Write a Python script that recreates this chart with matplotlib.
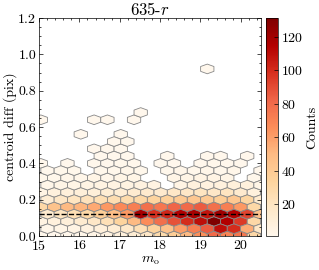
import numpy as np
import matplotlib
matplotlib.use("Agg")
import matplotlib.pyplot as plt
from matplotlib.ticker import AutoMinorLocator, MultipleLocator

plt.rcParams.update({
    "font.family": "serif",
    "font.serif": ["cmr10"],
    "mathtext.fontset": "cm",
    "axes.unicode_minus": False,
    "axes.formatter.use_mathtext": True,
    "font.size": 10,
})

# %% hexbin cells
# rows are spaced 0.04 in y; even rows start at x=15.045, odd rows at 15.21, step 0.33
row_y = [0.00, 0.04, 0.08, 0.12, 0.16, 0.20, 0.24, 0.28, 0.32, 0.36, 0.40,
         0.44, 0.48, 0.52, 0.56, 0.60, 0.64, 0.68, 0.72, 0.76, 0.80, 0.84,
         0.88, 0.92]
hex_counts = [
    [2, 1, 2, 3, 4, 6, 8, 12, 18, 28, 38, 50, 65, 80, 70, 75, 30],
    [3, 4, 5, 7, 9, 12, 16, 24, 34, 45, 60, 72, 85, 110, 100, 55, 18],
    [6, 8, 10, 14, 18, 24, 34, 50, 66, 78, 88, 100, 110, 131, 115, 95, 30],
    [15, 20, 25, 30, 38, 48, 62, 118, 98, 102, 115, 118, 108, 120, 115, 92, 45],
    [30, 45, 50, 52, 56, 62, 68, 72, 78, 75, 82, 80, 85, 78, 72, 62, 30],
    [12, 18, 20, 22, 25, 26, 28, 30, 33, 36, 40, 42, 40, 38, 42, 32, 15],
    [5, 8, 9, 10, 10, 12, 12, 14, 15, 15, 18, 18, 20, 18, 20, 15, 8],
    [3, 4, 4, 5, 6, 6, 6, 7, 6, 0, 5, 8, 7, 8, 9, 8, 4],
    [2, 2, 3, 3, 4, 3, 4, 4, 0, 0, 4, 4, 5, 5, 4, 0, 2],
    [1, 2, 2, 0, 2, 2, 3, 2, 0, 2, 3, 2, 3, 2, 3, 0, 1],
    [1, 0, 1, 0, 2, 1, 2, 1, 0, 1, 1, 0, 1, 2, 1, 1, 0],
    [0, 0, 0, 0, 1, 1, 1, 0, 0, 1, 0, 0, 1, 1, 0, 1, 0],
    [0, 0, 0, 0, 1, 1, 1, 0, 0, 0, 0, 0, 0, 0, 0, 0, 0],
    [0, 0, 0, 0, 0, 1, 1, 0, 0, 0, 0, 0, 0, 0, 0, 0, 0],
    [0, 0, 0, 1, 0, 0, 1, 0, 0, 0, 0, 0, 0, 0, 0, 0, 0],
    [0, 0, 0, 0, 0, 0, 0, 0, 0, 0, 0, 0, 0, 0, 0, 0, 0],
    [1, 0, 0, 0, 1, 1, 0, 1, 0, 0, 0, 0, 0, 0, 0, 0, 0],
    [0, 0, 0, 0, 0, 0, 0, 1, 0, 0, 0, 0, 0, 0, 0, 0, 0],
    [0, 0, 0, 0, 0, 0, 0, 0, 0, 0, 0, 0, 0, 0, 0, 0, 0],
    [0, 0, 0, 0, 0, 0, 0, 0, 0, 0, 0, 0, 0, 0, 0, 0, 0],
    [0, 0, 0, 0, 0, 0, 0, 0, 0, 0, 0, 0, 0, 0, 0, 0, 0],
    [0, 0, 0, 0, 0, 0, 0, 0, 0, 0, 0, 0, 0, 0, 0, 0, 0],
    [0, 0, 0, 0, 0, 0, 0, 0, 0, 0, 0, 0, 0, 0, 0, 0, 0],
    [0, 0, 0, 0, 0, 0, 0, 0, 0, 0, 0, 0, 1, 0, 0, 0, 0],
]
median_diff = 0.121

# %% unpack cells to points at hex centres
xs, ys, cs = [], [], []
for k, (y, row) in enumerate(zip(row_y, hex_counts)):
    x0 = 15.045 if k % 2 == 0 else 15.21
    for i, c in enumerate(row):
        if c > 0:
            xs.append(x0 + 0.33 * i)
            ys.append(y)
            cs.append(c)

# %%
fig = plt.figure(figsize=(3.19, 2.70), dpi=100)
ax = fig.add_axes([0.1223, 0.126, 0.6957, 0.807])
cax = fig.add_axes([0.834, 0.126, 0.0376, 0.807])

hb = ax.hexbin(xs, ys, C=cs, reduce_C_function=np.sum, gridsize=(18, 15),
               extent=(14.715, 20.655, 0.0, 1.2), cmap="OrRd", vmin=1, vmax=131,
               edgecolors="#888888", linewidths=0.6)
ax.axhline(median_diff, color="k", ls="--", lw=1.0)

ax.set_xlim(15, 20.5)
ax.set_ylim(0, 1.2)
ax.xaxis.set_major_locator(MultipleLocator(1))
ax.yaxis.set_major_locator(MultipleLocator(0.2))
ax.xaxis.set_minor_locator(AutoMinorLocator(5))
ax.yaxis.set_minor_locator(AutoMinorLocator(4))
ax.yaxis.set_major_formatter(plt.FormatStrFormatter("%.1f"))
ax.tick_params(which="both", direction="in", top=True, right=True)
ax.tick_params(which="major", length=3, width=0.5, pad=2)
ax.tick_params(which="minor", length=1.5, width=0.5)
for s in ax.spines.values():
    s.set_linewidth(0.5)

ax.set_title("635-$r$", pad=2)
ax.set_xlabel(r"$m_\mathrm{o}$", labelpad=1)
ax.set_ylabel("centroid diff (pix)", labelpad=1)

cb = fig.colorbar(hb, cax=cax)
cb.set_ticks([20, 40, 60, 80, 100, 120])
cb.ax.tick_params(direction="in", length=3, width=0.5, pad=2)
cb.outline.set_linewidth(0.5)
cb.set_label("Counts", labelpad=2)

fig.savefig("out.png", dpi=100)
